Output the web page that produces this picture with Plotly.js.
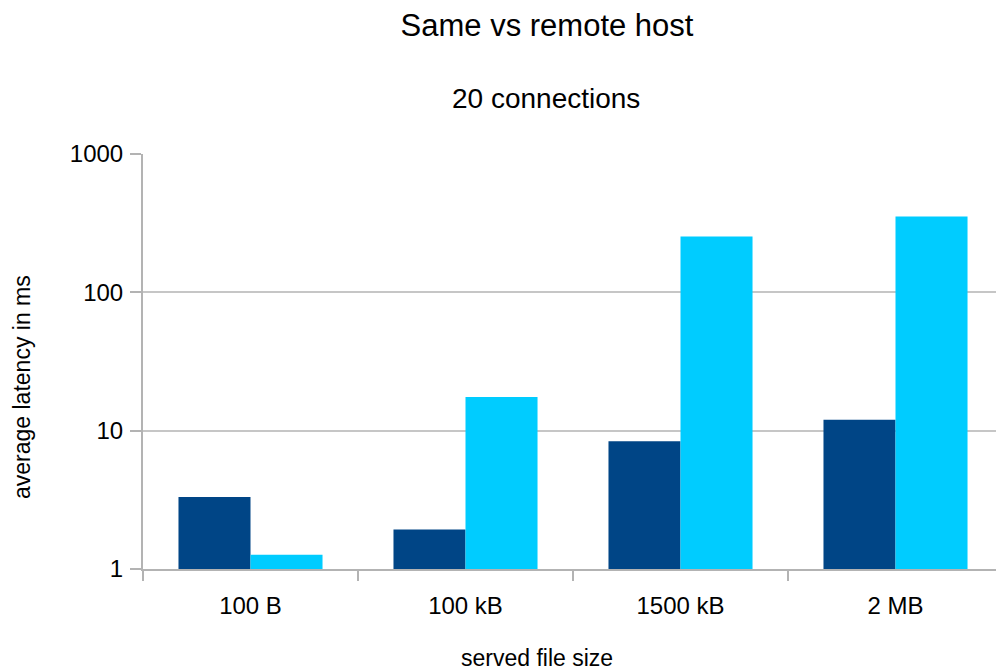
<!DOCTYPE html>
<html>
<head>
<meta charset="utf-8">
<script src="https://cdn.plot.ly/plotly-3.0.1.min.js"></script>
<style>html,body{margin:0;padding:0;background:#fff;}#chart{width:996px;height:671px;}</style>
</head>
<body>
<div id="chart"></div>
<script>
const categories = ["100 B", "100 kB", "1500 kB", "2 MB"];
const sameHost = [3.31, 1.93, 8.37, 12.0];
const remoteHost = [1.27, 17.5, 253, 354];
const yTickVals = [1, 10, 100, 1000];
const yTickText = ["1", "10", "100", "1000"];

const font = "Liberation Sans, Arial, sans-serif";
const L = 143, R = 996, T = 154, B = 569;
const W = R - L, H = B - T;
const traces = [
  {type: "bar", name: "same host", x: categories, y: sameHost, marker: {color: "#004586"}},
  {type: "bar", name: "remote host", x: categories, y: remoteHost, marker: {color: "#00ccff"}}
];
const layout = {
  width: 996, height: 671,
  margin: {l: L, r: 996 - R, t: T, b: 671 - B},
  paper_bgcolor: "#fff", plot_bgcolor: "#fff",
  showlegend: false,
  barmode: "group", bargap: 0.33, bargroupgap: 0,
  font: {family: font, color: "#000"},
  title: {text: "Same vs remote host", font: {size: 31, color: "#000"}, x: 547 / 996, xref: "container", xanchor: "center", y: 1 - 25 / 671, yref: "container", yanchor: "middle"},
  annotations: [
    {text: "20 connections", xref: "paper", yref: "paper", x: (546 - L) / W, y: (B - 98) / H, xanchor: "center", yanchor: "middle", showarrow: false, font: {size: 28, color: "#000"}},
    {text: "served file size", xref: "paper", yref: "paper", x: (537 - L) / W, y: (B - 658) / H, xanchor: "center", yanchor: "middle", showarrow: false, font: {size: 23, color: "#000"}},
    {text: "average latency in ms", xref: "paper", yref: "paper", x: (22 - L) / W, y: (B - 387) / H, xanchor: "center", yanchor: "middle", textangle: -90, showarrow: false, font: {size: 23, color: "#000"}}
  ],
  xaxis: {
    type: "category", range: [-0.5, -0.5 + W / 215], tickson: "boundaries", ticks: "outside", ticklen: 10, tickwidth: 2, tickcolor: "#b3b3b3",
    showline: true, linecolor: "#b3b3b3", linewidth: 2, showgrid: false,
    tickfont: {size: 24, color: "#000"}, ticklabelstandoff: 14
  },
  yaxis: {
    type: "log", range: [0, 3], tickvals: yTickVals, ticktext: yTickText,
    ticks: "outside", ticklen: 11, tickwidth: 2, tickcolor: "#b3b3b3",
    showline: true, linecolor: "#b3b3b3", linewidth: 2,
    showgrid: true, gridcolor: "#c6c6c6", gridwidth: 2, zeroline: false,
    tickfont: {size: 24, color: "#000"}, ticklabelstandoff: 2
  }
};
Plotly.newPlot("chart", traces, layout, {staticPlot: true, displayModeBar: false});
</script>
</body>
</html>
